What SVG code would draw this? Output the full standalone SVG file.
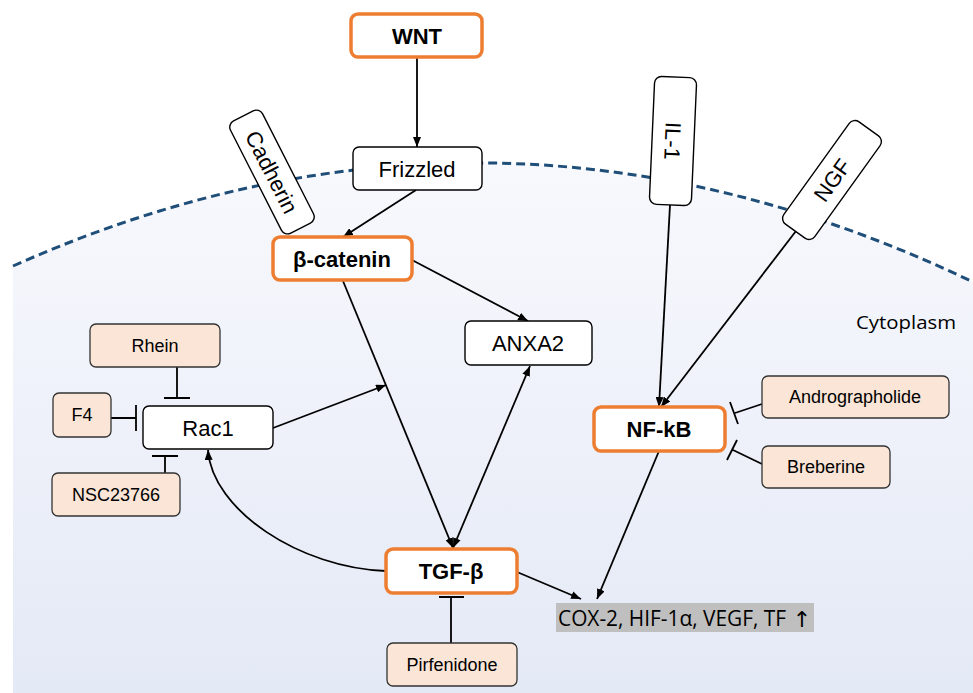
<svg xmlns="http://www.w3.org/2000/svg" width="973" height="693" viewBox="0 0 973 693">
<defs>
<linearGradient id="cyto" x1="0" y1="160" x2="0" y2="693" gradientUnits="userSpaceOnUse">
<stop offset="0" stop-color="#f8f9fd"/>
<stop offset="1" stop-color="#e4e9f6"/>
</linearGradient>
<marker id="ah" viewBox="0 0 10 8" refX="10" refY="4" markerWidth="10" markerHeight="8" markerUnits="userSpaceOnUse" orient="auto-start-reverse">
<path d="M0,0 L10,4 L0,8 z" fill="#000"/>
</marker>
</defs>
<style>
.node{fill:#fff;stroke:#000;stroke-width:1.4}
.key{fill:#fff;stroke:#ED7D31;stroke-width:3.5}
.drug{fill:#FBE5D6;stroke:#333;stroke-width:1.3}
.t{font-family:"Liberation Sans",Arial,sans-serif;font-size:22px;text-anchor:middle;fill:#000}
.b{font-weight:bold}
.d{font-family:"Liberation Sans",Arial,sans-serif;font-size:18px;text-anchor:middle;fill:#000}
.c{font-family:"Open Sans","Liberation Sans",sans-serif;fill:#000}
.ln{stroke:#000;stroke-width:1.8;fill:none}
.inh{stroke:#000;stroke-width:1.8;fill:none}
</style>
<rect width="973" height="693" fill="#fff"/>
<path d="M13,266 Q493,52 973,282 L973,693 L13,693 Z" fill="url(#cyto)"/>
<path d="M13,266 Q493,52 973,282" fill="none" stroke="#1F4E79" stroke-width="3" stroke-dasharray="9,5"/>
<text class="c" x="856" y="329" font-size="19" textLength="100" lengthAdjust="spacingAndGlyphs">Cytoplasm</text>

<g id="connectors">
<line class="ln" x1="417" y1="57" x2="417" y2="147" marker-end="url(#ah)"/>
<line class="ln" x1="416" y1="190" x2="343" y2="237" marker-end="url(#ah)"/>
<line class="ln" x1="412" y1="260" x2="528" y2="321" marker-end="url(#ah)"/>
<line class="ln" x1="343" y1="281" x2="453" y2="548" marker-end="url(#ah)"/>
<line class="ln" x1="273" y1="428" x2="386" y2="385" marker-end="url(#ah)"/>
<line class="ln" x1="453" y1="548" x2="530" y2="366" marker-start="url(#ah)" marker-end="url(#ah)"/>
<line class="ln" x1="517" y1="572" x2="581" y2="599" marker-end="url(#ah)"/>
<line class="ln" x1="659" y1="451" x2="597" y2="599" marker-end="url(#ah)"/>
<line class="ln" x1="670" y1="205" x2="659" y2="407" marker-end="url(#ah)"/>
<line class="ln" x1="796" y1="231" x2="661" y2="407" marker-end="url(#ah)"/>
<path class="ln" d="M386,571 C300,568 212,510 208,450" marker-end="url(#ah)"/>
<path class="inh" d="M177,367 V398 M164,398 H190"/>
<path class="inh" d="M111,418 H136 M136,405 V431"/>
<path class="inh" d="M165,473 V456 M152,456 H178"/>
<path class="inh" d="M762,404 L735,413 M730,402 L738,424"/>
<path class="inh" d="M762,464 L733,450 M727,460 L737,440"/>
<path class="inh" d="M451,643 V597 M439,597 H464"/>
</g>

<g id="wnt"><rect class="key" x="351" y="14" width="131" height="43" rx="7"/><text class="t b" x="417" y="44">WNT</text></g>
<g id="frizzled"><rect class="node" x="353" y="147" width="129" height="43" rx="6"/><text class="t" x="417" y="177">Frizzled</text></g>
<g id="cadherin" transform="translate(272,172) rotate(63)"><rect class="node" x="-63" y="-18" width="126" height="36" rx="7"/><text class="t" x="0" y="8">Cadherin</text></g>
<g id="bcatenin"><rect class="key" x="273" y="237" width="139" height="43" rx="7"/><text class="t b" x="342" y="267">β-catenin</text></g>
<g id="il1" transform="translate(673,141) rotate(92.5)"><rect class="node" x="-64" y="-21" width="128" height="42" rx="7"/><text class="t" x="0" y="8">IL-1</text></g>
<g id="ngf" transform="translate(832,180) rotate(-54.3)"><rect class="node" x="-63" y="-19" width="126" height="38" rx="7"/><text class="t" x="0" y="8">NGF</text></g>
<g id="anxa2"><rect class="node" x="465" y="321" width="127" height="44" rx="6"/><text class="t" x="528" y="351">ANXA2</text></g>
<g id="rhein"><rect class="drug" x="90" y="324" width="130" height="43" rx="6"/><text class="d" x="155" y="352">Rhein</text></g>
<g id="f4"><rect class="drug" x="53" y="393" width="58" height="44" rx="6"/><text class="d" x="82" y="421">F4</text></g>
<g id="rac1"><rect class="node" x="143" y="406" width="130" height="43" rx="6"/><text class="t" x="208" y="436">Rac1</text></g>
<g id="nsc23766"><rect class="drug" x="52" y="473" width="128" height="43" rx="6"/><text class="d" x="116" y="501">NSC23766</text></g>
<g id="nfkb"><rect class="key" x="594" y="407" width="131" height="44" rx="7"/><text class="t b" x="659" y="437">NF-kB</text></g>
<g id="andrographolide"><rect class="drug" x="762" y="376" width="187" height="42" rx="6"/><text class="d" x="855" y="403">Andrographolide</text></g>
<g id="breberine"><rect class="drug" x="762" y="446" width="128" height="42" rx="6"/><text class="d" x="826" y="473">Breberine</text></g>
<g id="tgfb"><rect class="key" x="386" y="549" width="131" height="44" rx="7"/><text class="t b" x="451" y="579">TGF-β</text></g>
<g id="pirfenidone"><rect class="drug" x="387" y="643" width="130" height="43" rx="6"/><text class="d" x="452" y="671">Pirfenidone</text></g>
<g id="cox"><rect x="556" y="603" width="258" height="29" fill="#BFBFBF"/><text class="c" x="558" y="626" font-size="21" textLength="228" lengthAdjust="spacingAndGlyphs">COX-2, HIF-1α, VEGF, TF</text><text x="802" y="627" font-family="'DejaVu Sans',sans-serif" font-size="22" text-anchor="middle" fill="#000">↑</text></g>
</svg>
